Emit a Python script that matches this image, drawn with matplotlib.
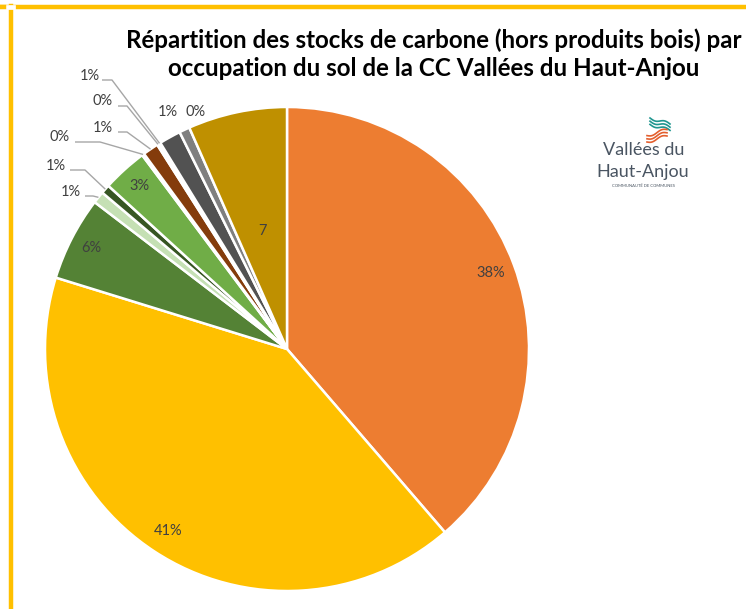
import numpy as np
import matplotlib
matplotlib.use("Agg")
import matplotlib.pyplot as plt
from matplotlib.lines import Line2D

# Land-use categories, listed clockwise from 12 o'clock
categories = [
    "Cultures", "Prairies", "Forêts feuillus", "Forêts mixtes", "Forêts conifères",
    "Haies", "Zones humides", "Vergers", "Vignes", "Landes",
    "Sols artificialisés imperméables", "Sols artificialisés enherbés", "Autres",
]
shares = [38.6, 41.0, 5.6, 0.8, 0.6, 3.0, 0.15, 1.05, 0.12, 0.12, 1.45, 0.7, 6.6]
labels = ["38%", "41%", "6%", "1%", "1%", "3%", "0%", "1%", "0%", "1%", "1%", "0%", "7"]
colors = ["#ED7D31", "#FFC000", "#548235", "#C5E0B4", "#375623", "#70AD47",
          "#4472C4", "#843C0C", "#FFFFFF", "#FFFFFF", "#525252", "#7F7F7F", "#BF9000"]

W, H = 746, 609
fig = plt.figure(figsize=(W / 100, H / 100), dpi=100)
ax = fig.add_axes([0, 0, 1, 1])

cx, cy, R = 287, H - 349, 242

wedges, _ = ax.pie(shares, colors=colors, startangle=90, counterclock=False,
                   center=(cx, cy), radius=R, frame=True,
                   wedgeprops=dict(edgecolor="white", linewidth=1.8))
ax.set_xlim(0, W)
ax.set_ylim(0, H)
ax.set_aspect("equal")
ax.axis("off")

label_kw = dict(fontsize=10.5, color="#404040", family=["Lato", "DejaVu Sans"],
                ha="center", va="center")

def mid_angle(w):
    return np.deg2rad((w.theta1 + w.theta2) / 2)

# labels drawn inside their slice: (slice index, fraction of radius)
inside = {0: 0.90, 1: 0.90, 2: 0.91, 5: 0.91, 12: 0.50}
for i, frac in inside.items():
    a = mid_angle(wedges[i])
    ax.text(cx + frac * R * np.cos(a), cy + frac * R * np.sin(a), labels[i], **label_kw)

# labels sitting just outside the pie without a leader
outside = {10: (168, 112), 11: (196, 112)}
for i, (px, py) in outside.items():
    ax.text(px, H - py, labels[i], **label_kw)

# labels with leader lines: text position, elbow start, elbow end
leaders = {
    9: ((90, 76), (102, 80), (112, 80)),
    8: ((103, 101), (118, 106), (127, 106)),
    7: ((103, 128), (118, 132), (127, 132)),
    6: ((60, 137), (75, 142), (100, 142)),
    4: ((56, 166), (70, 170), (85, 170)),
    3: ((71, 192), (85, 196), (93, 196)),
}
for i, (tpos, p0, p1) in leaders.items():
    ax.text(tpos[0], H - tpos[1], labels[i], **label_kw)
    a = mid_angle(wedges[i])
    ex, ey = cx + R * np.cos(a), cy + R * np.sin(a)
    ax.plot([p0[0], p1[0], ex], [H - p0[1], H - p1[1], ey],
            color="#A6A6A6", lw=1.0, solid_capstyle="butt")

# title
title_kw = dict(ha="center", va="center", fontsize=17.4, fontweight="bold",
                color="black", family=["Lato", "DejaVu Sans"])
fig.text(434 / W, 1 - 40 / H,
         "Répartition des stocks de carbone (hors produits bois) par", **title_kw)
fig.text(434 / W, 1 - 68 / H,
         "occupation du sol de la CC Vallées du Haut-Anjou", **title_kw)

# community logo
logo_col = "#4A5562"
ax.text(644, H - 150, "Vallées du", ha="center", va="center", fontsize=13,
        color=logo_col, family=["Lato", "DejaVu Sans"])
ax.text(643, H - 172, "Haut-Anjou", ha="center", va="center", fontsize=13,
        color=logo_col, family=["Lato", "DejaVu Sans"])
ax.text(643, H - 186, "COMMUNAUTÉ DE COMMUNES", ha="center", va="center", fontsize=3,
        color=logo_col, family=["Lato", "DejaVu Sans"])
t = np.linspace(0, 1, 30)
for k in range(3):
    xs = 650 + 20 * t
    ys = H - (118 + 3.2 * k + 6 * t + 1.5 * np.sin(2 * np.pi * t))
    ax.plot(xs, ys, color="#1F968F", lw=1.2)
    ys2 = H - (142 - 3.2 * k - 6 * t + 1.5 * np.sin(2 * np.pi * t))
    ax.plot(xs - 3, ys2, color="#E35F2E", lw=1.2)

# chart-area outline
fig.add_artist(Line2D([0, 1], [1 - 7 / H, 1 - 7 / H], transform=fig.transFigure,
                      color="#FFC000", lw=3.2))
fig.add_artist(Line2D([11 / W, 11 / W], [0, 1 - 5.5 / H], transform=fig.transFigure,
                      color="#FFC000", lw=3.2))
fig.add_artist(Line2D([0, 13 / W], [1 - 7 / H, 1 - 7 / H], transform=fig.transFigure,
                      color="white", lw=3.4))
fig.add_artist(Line2D([0, 4 / W], [1 - 7 / H, 1 - 7 / H], transform=fig.transFigure,
                      color="#FFC000", lw=3.2))

fig.savefig("out.png", dpi=100, facecolor="white")
